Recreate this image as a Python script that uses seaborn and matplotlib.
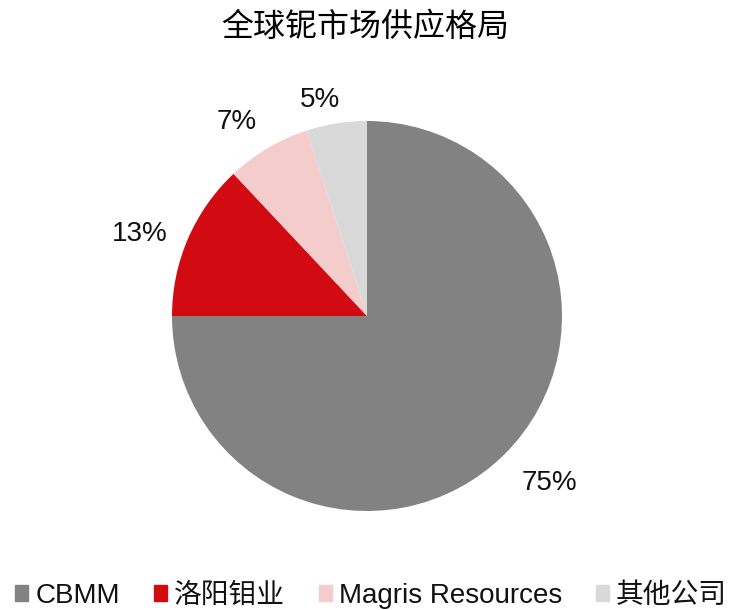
import matplotlib
matplotlib.use("Agg")
import numpy as np
import matplotlib.pyplot as plt
import seaborn as sns
from matplotlib.patches import Rectangle

companies = ["CBMM", "洛阳钼业", "Magris Resources", "其他公司"]
shares = [75, 13, 7, 5]
pct_labels = ["75%", "13%", "7%", "5%"]
colors = ["#828282", "#D20A11", "#F4CCCC", "#D9D9D9"]
label_dist = [1.26, 1.245, 1.21, 1.15]
title = "全球铌市场供应格局"

sns.set_theme(style="white")
plt.rcParams['font.family'] = ['Liberation Sans', 'Noto Sans CJK SC', 'DejaVu Sans']
plt.rcParams['text.color'] = '#111111'

W, H = 731, 610
fig = plt.figure(figsize=(W / 100, H / 100), dpi=100)
cx, cy, r = 367, 316, 195
ax = fig.add_axes([(cx - r) / W, (H - cy - r) / H, 2 * r / W, 2 * r / H])

palette = sns.color_palette(colors)
wedges, _ = ax.pie(shares, colors=palette, startangle=90,
                   counterclock=False, radius=1,
                   wedgeprops=dict(linewidth=0))
for w, lab, d in zip(wedges, pct_labels, label_dist):
    ang = np.deg2rad((w.theta1 + w.theta2) / 2 + 3)
    ax.text(d * np.cos(ang), d * np.sin(ang) - 0.015, lab, ha="center", va="center",
            fontsize=20, color="#111111")
ax.set_xlim(-1, 1)
ax.set_ylim(-1, 1)
ax.set_aspect("equal")
ax.axis("off")

fig.text(0.5, 1 - 27 / H, title, ha="center", va="center", fontsize=23,
         fontweight="medium", color="black", family=['Noto Sans CJK SC', 'DejaVu Sans'])

handles = [Rectangle((0, 0), 1, 1, color=c) for c in palette]
fig.legend(handles, companies, loc="center", bbox_to_anchor=(371 / W, 1 - 596 / H),
           ncol=4, frameon=False, fontsize=20, handlelength=0.47, handleheight=0.47,
           handletextpad=0.25, columnspacing=1.22, borderpad=0, borderaxespad=0,
           labelcolor="#111111")

fig.savefig("out.png", dpi=100)
